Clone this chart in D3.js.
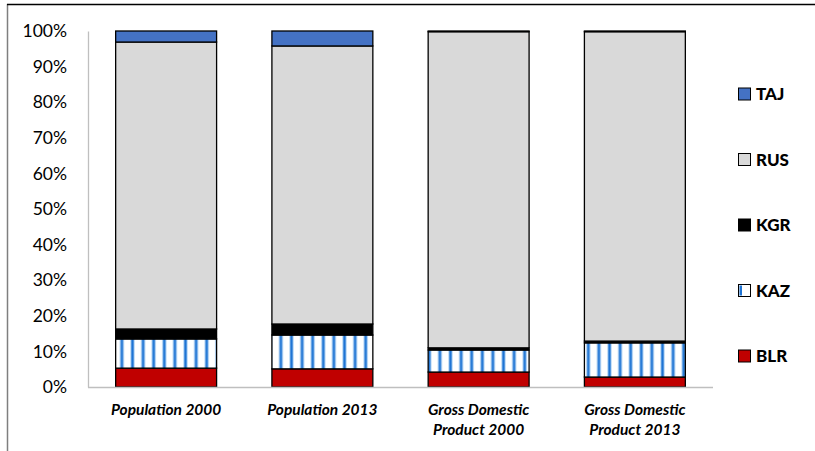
<!DOCTYPE html>
<html>
<head>
<meta charset="utf-8">
<script src="https://cdn.jsdelivr.net/npm/d3@7"></script>
<style>
  html, body { margin: 0; padding: 0; background: #ffffff; }
  svg { display: block; font-family: Lato, "Open Sans", sans-serif; }
</style>
</head>
<body>
<svg id="chart" width="815" height="451"></svg>
<script>
// Categories along the x axis (two-line labels split with "\n")
const categories = [
  "Population 2000",
  "Population 2013",
  "Gross Domestic\nProduct 2000",
  "Gross Domestic\nProduct 2013"
];

// Country shares (percent of the total) for each category, stacked bottom to top
const BLR = [5.3, 5.1, 4.2, 2.8];
const KAZ = [8.2, 9.5, 6.2, 9.6];
const KGR = [2.8, 3.1, 0.6, 0.5];
const RUS = [80.6, 78.1, 88.8, 86.9];
const TAJ = [3.1, 4.2, 0.2, 0.2];

const seriesNames = ["BLR", "KAZ", "KGR", "RUS", "TAJ"];
const seriesValues = { BLR, KAZ, KGR, RUS, TAJ };

// Y axis tick values
const yTicks = [0, 10, 20, 30, 40, 50, 60, 70, 80, 90, 100];

const fills = {
  BLR: "#c00000",
  KAZ: "url(#kazStripes)",
  KGR: "#000000",
  RUS: "#d9d9d9",
  TAJ: "#4472c4"
};

const svg = d3.select("#chart");

// Vertical stripe pattern for KAZ
const defs = svg.append("defs");
const pat = defs.append("pattern")
  .attr("id", "kazStripes")
  .attr("patternUnits", "userSpaceOnUse")
  .attr("width", 10.6)
  .attr("height", 10);
pat.append("rect").attr("width", 10.6).attr("height", 10).attr("fill", "#ffffff");
pat.append("rect").attr("x", 3.2).attr("width", 4.2).attr("height", 10).attr("fill", "#a9cdf2");
pat.append("rect").attr("x", 4.2).attr("width", 2.2).attr("height", 10).attr("fill", "#1f74d4");

// Outer frame (left and top edges)
svg.append("line").attr("x1", 7.5).attr("x2", 7.5).attr("y1", 4).attr("y2", 451)
  .attr("stroke", "#7f7f7f").attr("stroke-width", 1.5);
svg.append("line").attr("x1", 7).attr("x2", 815).attr("y1", 4.5).attr("y2", 4.5)
  .attr("stroke", "#000000").attr("stroke-width", 1.5);

const x = d3.scaleBand()
  .domain(categories)
  .range([88, 713])
  .paddingInner(0.354)
  .paddingOuter(0.177);

const y = d3.scaleLinear().domain([0, 100]).range([387, 31]);

// Stack the series
const rows = categories.map((c, i) => {
  const r = { category: c };
  seriesNames.forEach(s => { r[s] = seriesValues[s][i]; });
  return r;
});
const stacked = d3.stack().keys(seriesNames)(rows);

const gBars = svg.append("g");
stacked.forEach(layer => {
  gBars.append("g")
    .selectAll("rect")
    .data(layer)
    .join("rect")
    .attr("x", d => x(d.data.category))
    .attr("width", x.bandwidth())
    .attr("y", d => y(d[1]))
    .attr("height", d => y(d[0]) - y(d[1]))
    .attr("fill", fills[layer.key])
    .attr("stroke", "#000000")
    .attr("stroke-width", 1.3);
});

// Y axis
const yAxis = d3.axisLeft(y).tickValues(yTicks).tickFormat(d => d + "%").tickSize(0).tickPadding(21);
const gy = svg.append("g").attr("transform", "translate(88,0)").call(yAxis);
gy.select(".domain").attr("stroke", "#bfbfbf").attr("stroke-width", 1.3);
gy.selectAll("text").attr("font-size", 17.5).attr("fill", "#000000")
  .attr("font-family", "Lato, sans-serif");

// X axis line
svg.append("line").attr("x1", 88).attr("x2", 713).attr("y1", 387.5).attr("y2", 387.5)
  .attr("stroke", "#bfbfbf").attr("stroke-width", 1.5);

// X category labels
const gx = svg.append("g");
categories.forEach(c => {
  const lines = c.split("\n");
  const t = gx.append("text")
    .attr("x", x(c) + x.bandwidth() / 2)
    .attr("y", 415)
    .attr("text-anchor", "middle")
    .attr("font-size", 15.5)
    .attr("font-weight", "bold")
    .attr("font-style", "italic")
    .attr("fill", "#000000");
  lines.forEach((ln, k) => {
    t.append("tspan").attr("x", x(c) + x.bandwidth() / 2).attr("dy", k === 0 ? 0 : 20).text(ln);
  });
});

// Legend, top entry is the top of the stack
const legendOrder = ["TAJ", "RUS", "KGR", "KAZ", "BLR"];
const legendY = d3.scalePoint().domain(legendOrder).range([94, 356]);
const gl = svg.append("g");
legendOrder.forEach(s => {
  const cy = legendY(s);
  gl.append("rect")
    .attr("x", 738.5).attr("y", cy - 6)
    .attr("width", 12).attr("height", 12)
    .attr("fill", s === "KAZ" ? "#ffffff" : fills[s])
    .attr("stroke", "#000000").attr("stroke-width", 1);
  if (s === "KAZ") {
    gl.append("rect").attr("x", 739.5).attr("y", cy - 5).attr("width", 2.5).attr("height", 10)
      .attr("fill", "#1f74d4");
  }
  gl.append("text")
    .attr("x", 756).attr("y", cy + 6)
    .attr("font-size", 17).attr("font-weight", "900")
    .attr("fill", "#000000")
    .text(s);
});
</script>
</body>
</html>
